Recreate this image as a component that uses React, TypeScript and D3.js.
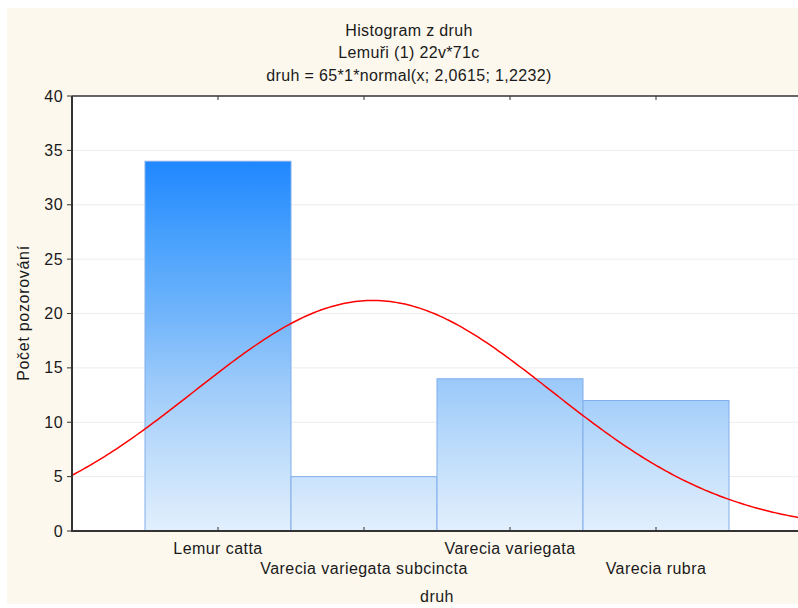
import React from "react";
import * as d3 from "d3";

const categories = ["Lemur catta", "Varecia variegata subcincta", "Varecia variegata", "Varecia rubra"];
const counts = [34, 5, 14, 12];
const yTicks = [0, 5, 10, 15, 20, 25, 30, 35, 40];
const titleLines = ["Histogram z druh", "Lemuři (1) 22v*71c", "druh = 65*1*normal(x; 2,0615; 1,2232)"];
const fitN = 65;
const fitWidth = 1;
const fitMean = 2.0615;
const fitSd = 1.2232;

const W = 791;
const H = 596;
const OX = 7; // svg offset on page
const OY = 8;
const left = 72 - OX;
const right = 802 - OX;
const top = 96 - OY;
const bottom = 531 - OY;
const FONT = "'Liberation Sans', Arial, sans-serif";
const FS = 16;
const LS = 0.45;

export default function App() {
  const x = d3.scaleLinear().domain([0, 5]).range([left, right]);
  const y = d3.scaleLinear().domain([0, 40]).range([bottom, top]);
  const normal = (v: number) =>
    (fitN * fitWidth) / (fitSd * Math.sqrt(2 * Math.PI)) * Math.exp(-0.5 * ((v - fitMean) / fitSd) ** 2);
  const xs = d3.range(0, 5.0001, 0.02);
  const line = d3
    .line<number>()
    .x((v) => x(v))
    .y((v) => y(normal(v)));
  const maxC = d3.max(counts) as number;
  return (
    <svg
      width={W}
      height={H}
      style={{ position: "absolute", left: OX, top: OY, display: "block" }}
      fontFamily={FONT}
    >
      <defs>
        <linearGradient id="barGrad" gradientUnits="userSpaceOnUse" x1="0" x2="0" y1={y(maxC)} y2={bottom}>
          <stop offset="0" stopColor="#2087ff" />
          <stop offset="0.2" stopColor="#46a0fc" />
          <stop offset="0.42" stopColor="#72b5fb" />
          <stop offset="0.6" stopColor="#9ccafa" />
          <stop offset="0.78" stopColor="#bddcfb" />
          <stop offset="1" stopColor="#e2effd" />
        </linearGradient>
        <clipPath id="plotClip">
          <rect x={left} y={top} width={right - left} height={bottom - top} />
        </clipPath>
      </defs>
      <rect x={0} y={0} width={W} height={H} fill="#fdf8ee" />
      <rect x={left} y={top} width={right - left} height={bottom - top} fill="#ffffff" />
      {yTicks.slice(1, -1).map((t) => (
        <line key={t} x1={left} x2={right} y1={y(t)} y2={y(t)} stroke="#ececec" strokeWidth={1} />
      ))}
      {counts.map((c, i) => (
        <rect
          key={i}
          x={x(i + 0.5)}
          y={y(c)}
          width={x(i + 1.5) - x(i + 0.5)}
          height={bottom - y(c)}
          fill="url(#barGrad)"
          stroke="#82adec"
          strokeWidth={1}
        />
      ))}
      <path d={line(xs) || ""} fill="none" stroke="#ff0000" strokeWidth={1.5} clipPath="url(#plotClip)" />
      <line x1={left} x2={right} y1={top} y2={top} stroke="#333" strokeWidth={1.5} />
      <line x1={left} x2={right} y1={bottom} y2={bottom} stroke="#333" strokeWidth={2} />
      <line x1={left} x2={left} y1={top} y2={bottom + 1} stroke="#333" strokeWidth={2} />
      {categories.map((c, i) => (
        <g key={c}>
          <line x1={x(i + 1)} x2={x(i + 1)} y1={bottom} y2={bottom - 4} stroke="#333" strokeWidth={1} />
          <line x1={x(i + 1)} x2={x(i + 1)} y1={top} y2={top + 4} stroke="#333" strokeWidth={1} />
          <text
            x={x(i + 1)}
            y={i % 2 === 0 ? 554 - OY : 574 - OY}
            textAnchor="middle"
            fontSize={FS}
            letterSpacing={LS}
            fill="#1a1a1a"
          >
            {c}
          </text>
        </g>
      ))}
      {yTicks.map((t) => (
        <g key={t}>
          <line x1={left - 5} x2={left} y1={y(t)} y2={y(t)} stroke="#333" strokeWidth={1} />
          <text x={63 - OX} y={y(t) + 5.5} textAnchor="end" fontSize={FS} letterSpacing={LS} fill="#1a1a1a">
            {t}
          </text>
        </g>
      ))}
      <text x={437 - OX} y={602 - OY} textAnchor="middle" fontSize={FS} letterSpacing={LS} fill="#1a1a1a">
        druh
      </text>
      <text
        transform={`translate(${29 - OX},${313 - OY}) rotate(-90)`}
        textAnchor="middle"
        fontSize={FS}
        letterSpacing={0.7}
        fill="#1a1a1a"
      >
        Počet pozorování
      </text>
      {titleLines.map((t, i) => (
        <text
          key={i}
          x={409 - OX}
          y={36 - OY + i * 22.3}
          textAnchor="middle"
          fontSize={FS}
          letterSpacing={0.35}
          fill="#1a1a1a"
        >
          {t}
        </text>
      ))}
    </svg>
  );
}
